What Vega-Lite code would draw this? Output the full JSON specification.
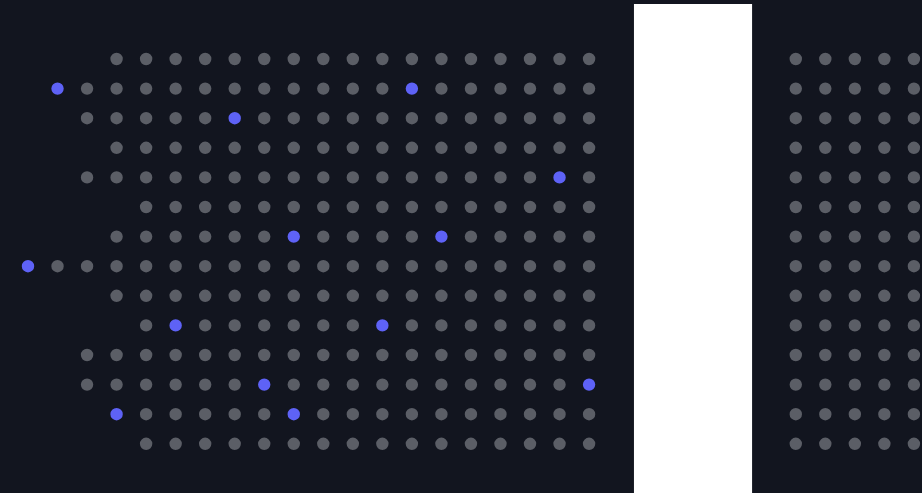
{
"$schema": "https://vega.github.io/schema/vega-lite/v6.json",
"width": 922, "height": 493, "autosize": "none", "padding": 0,
"background": "#12151f",
"config": {"view": {"stroke": null}},
"layer": [
{"data": {"values": [
{"r":0,"c":3},{"r":0,"c":4},{"r":0,"c":5},{"r":0,"c":6},{"r":0,"c":7},{"r":0,"c":8},{"r":0,"c":9},{"r":0,"c":10},{"r":0,"c":11},{"r":0,"c":12},{"r":0,"c":13},{"r":0,"c":14},{"r":0,"c":15},{"r":0,"c":16},{"r":0,"c":17},{"r":0,"c":18},{"r":0,"c":19},{"r":0,"c":26},{"r":0,"c":27},{"r":0,"c":28},{"r":0,"c":29},{"r":0,"c":30},
{"r":1,"c":1,"s":"b"},{"r":1,"c":2},{"r":1,"c":3},{"r":1,"c":4},{"r":1,"c":5},{"r":1,"c":6},{"r":1,"c":7},{"r":1,"c":8},{"r":1,"c":9},{"r":1,"c":10},{"r":1,"c":11},{"r":1,"c":12},{"r":1,"c":13,"s":"b"},{"r":1,"c":14},{"r":1,"c":15},{"r":1,"c":16},{"r":1,"c":17},{"r":1,"c":18},{"r":1,"c":19},{"r":1,"c":26},{"r":1,"c":27},{"r":1,"c":28},{"r":1,"c":29},{"r":1,"c":30},
{"r":2,"c":2},{"r":2,"c":3},{"r":2,"c":4},{"r":2,"c":5},{"r":2,"c":6},{"r":2,"c":7,"s":"b"},{"r":2,"c":8},{"r":2,"c":9},{"r":2,"c":10},{"r":2,"c":11},{"r":2,"c":12},{"r":2,"c":13},{"r":2,"c":14},{"r":2,"c":15},{"r":2,"c":16},{"r":2,"c":17},{"r":2,"c":18},{"r":2,"c":19},{"r":2,"c":26},{"r":2,"c":27},{"r":2,"c":28},{"r":2,"c":29},{"r":2,"c":30},
{"r":3,"c":3},{"r":3,"c":4},{"r":3,"c":5},{"r":3,"c":6},{"r":3,"c":7},{"r":3,"c":8},{"r":3,"c":9},{"r":3,"c":10},{"r":3,"c":11},{"r":3,"c":12},{"r":3,"c":13},{"r":3,"c":14},{"r":3,"c":15},{"r":3,"c":16},{"r":3,"c":17},{"r":3,"c":18},{"r":3,"c":19},{"r":3,"c":26},{"r":3,"c":27},{"r":3,"c":28},{"r":3,"c":29},{"r":3,"c":30},
{"r":4,"c":2},{"r":4,"c":3},{"r":4,"c":4},{"r":4,"c":5},{"r":4,"c":6},{"r":4,"c":7},{"r":4,"c":8},{"r":4,"c":9},{"r":4,"c":10},{"r":4,"c":11},{"r":4,"c":12},{"r":4,"c":13},{"r":4,"c":14},{"r":4,"c":15},{"r":4,"c":16},{"r":4,"c":17},{"r":4,"c":18,"s":"b"},{"r":4,"c":19},{"r":4,"c":26},{"r":4,"c":27},{"r":4,"c":28},{"r":4,"c":29},{"r":4,"c":30},
{"r":5,"c":4},{"r":5,"c":5},{"r":5,"c":6},{"r":5,"c":7},{"r":5,"c":8},{"r":5,"c":9},{"r":5,"c":10},{"r":5,"c":11},{"r":5,"c":12},{"r":5,"c":13},{"r":5,"c":14},{"r":5,"c":15},{"r":5,"c":16},{"r":5,"c":17},{"r":5,"c":18},{"r":5,"c":19},{"r":5,"c":26},{"r":5,"c":27},{"r":5,"c":28},{"r":5,"c":29},{"r":5,"c":30},
{"r":6,"c":3},{"r":6,"c":4},{"r":6,"c":5},{"r":6,"c":6},{"r":6,"c":7},{"r":6,"c":8},{"r":6,"c":9,"s":"b"},{"r":6,"c":10},{"r":6,"c":11},{"r":6,"c":12},{"r":6,"c":13},{"r":6,"c":14,"s":"b"},{"r":6,"c":15},{"r":6,"c":16},{"r":6,"c":17},{"r":6,"c":18},{"r":6,"c":19},{"r":6,"c":26},{"r":6,"c":27},{"r":6,"c":28},{"r":6,"c":29},{"r":6,"c":30},
{"r":7,"c":0,"s":"b"},{"r":7,"c":1},{"r":7,"c":2},{"r":7,"c":3},{"r":7,"c":4},{"r":7,"c":5},{"r":7,"c":6},{"r":7,"c":7},{"r":7,"c":8},{"r":7,"c":9},{"r":7,"c":10},{"r":7,"c":11},{"r":7,"c":12},{"r":7,"c":13},{"r":7,"c":14},{"r":7,"c":15},{"r":7,"c":16},{"r":7,"c":17},{"r":7,"c":18},{"r":7,"c":19},{"r":7,"c":26},{"r":7,"c":27},{"r":7,"c":28},{"r":7,"c":29},{"r":7,"c":30},
{"r":8,"c":3},{"r":8,"c":4},{"r":8,"c":5},{"r":8,"c":6},{"r":8,"c":7},{"r":8,"c":8},{"r":8,"c":9},{"r":8,"c":10},{"r":8,"c":11},{"r":8,"c":12},{"r":8,"c":13},{"r":8,"c":14},{"r":8,"c":15},{"r":8,"c":16},{"r":8,"c":17},{"r":8,"c":18},{"r":8,"c":19},{"r":8,"c":26},{"r":8,"c":27},{"r":8,"c":28},{"r":8,"c":29},{"r":8,"c":30},
{"r":9,"c":4},{"r":9,"c":5,"s":"b"},{"r":9,"c":6},{"r":9,"c":7},{"r":9,"c":8},{"r":9,"c":9},{"r":9,"c":10},{"r":9,"c":11},{"r":9,"c":12,"s":"b"},{"r":9,"c":13},{"r":9,"c":14},{"r":9,"c":15},{"r":9,"c":16},{"r":9,"c":17},{"r":9,"c":18},{"r":9,"c":19},{"r":9,"c":26},{"r":9,"c":27},{"r":9,"c":28},{"r":9,"c":29},{"r":9,"c":30},
{"r":10,"c":2},{"r":10,"c":3},{"r":10,"c":4},{"r":10,"c":5},{"r":10,"c":6},{"r":10,"c":7},{"r":10,"c":8},{"r":10,"c":9},{"r":10,"c":10},{"r":10,"c":11},{"r":10,"c":12},{"r":10,"c":13},{"r":10,"c":14},{"r":10,"c":15},{"r":10,"c":16},{"r":10,"c":17},{"r":10,"c":18},{"r":10,"c":19},{"r":10,"c":26},{"r":10,"c":27},{"r":10,"c":28},{"r":10,"c":29},{"r":10,"c":30},
{"r":11,"c":2},{"r":11,"c":3},{"r":11,"c":4},{"r":11,"c":5},{"r":11,"c":6},{"r":11,"c":7},{"r":11,"c":8,"s":"b"},{"r":11,"c":9},{"r":11,"c":10},{"r":11,"c":11},{"r":11,"c":12},{"r":11,"c":13},{"r":11,"c":14},{"r":11,"c":15},{"r":11,"c":16},{"r":11,"c":17},{"r":11,"c":18},{"r":11,"c":19,"s":"b"},{"r":11,"c":26},{"r":11,"c":27},{"r":11,"c":28},{"r":11,"c":29},{"r":11,"c":30},
{"r":12,"c":3,"s":"b"},{"r":12,"c":4},{"r":12,"c":5},{"r":12,"c":6},{"r":12,"c":7},{"r":12,"c":8},{"r":12,"c":9,"s":"b"},{"r":12,"c":10},{"r":12,"c":11},{"r":12,"c":12},{"r":12,"c":13},{"r":12,"c":14},{"r":12,"c":15},{"r":12,"c":16},{"r":12,"c":17},{"r":12,"c":18},{"r":12,"c":19},{"r":12,"c":26},{"r":12,"c":27},{"r":12,"c":28},{"r":12,"c":29},{"r":12,"c":30},
{"r":13,"c":4},{"r":13,"c":5},{"r":13,"c":6},{"r":13,"c":7},{"r":13,"c":8},{"r":13,"c":9},{"r":13,"c":10},{"r":13,"c":11},{"r":13,"c":12},{"r":13,"c":13},{"r":13,"c":14},{"r":13,"c":15},{"r":13,"c":16},{"r":13,"c":17},{"r":13,"c":18},{"r":13,"c":19},{"r":13,"c":26},{"r":13,"c":27},{"r":13,"c":28},{"r":13,"c":29},{"r":13,"c":30}
]},
"mark": {"type": "circle", "size": 154, "opacity": 1},
"encoding": {
"x": {"field": "c", "type": "quantitative", "scale": {"domain": [-0.948, 30.274], "nice": false, "zero": false}, "axis": null},
"y": {"field": "r", "type": "quantitative", "scale": {"domain": [-1.993, 14.662], "nice": false, "zero": false, "reverse": true}, "axis": null},
"color": {"condition": {"test": "datum.s === 'b'", "value": "#5e62f6"}, "value": "#5b5e66"}
}},
{"data": {"values": [{"x1": 20.52, "x2": 24.52, "y1": -1.858, "y2": 14.662}]},
"mark": {"type": "rect", "fill": "#ffffff"},
"encoding": {
"x": {"field": "x1", "type": "quantitative"},
"x2": {"field": "x2"},
"y": {"field": "y1", "type": "quantitative"},
"y2": {"field": "y2"}
}}
]
}
